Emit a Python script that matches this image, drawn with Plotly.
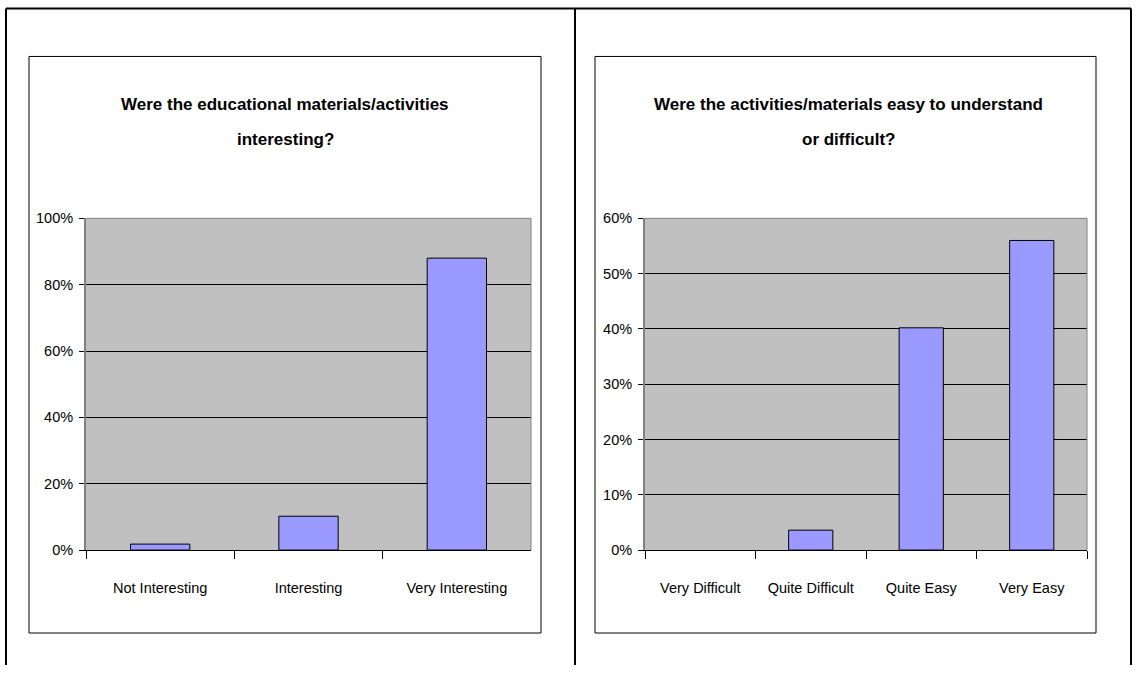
import plotly.graph_objects as go

W, H = 1137, 673

# ---- data ----
cats_left = ["Not Interesting", "Interesting", "Very Interesting"]
vals_left = [0.018, 0.102, 0.88]
title_left = ["Were the educational materials/activities", "interesting?"]

cats_right = ["Very Difficult", "Quite Difficult", "Quite Easy", "Very Easy"]
vals_right = [0.0, 0.036, 0.402, 0.56]
title_right = ["Were the activities/materials easy to understand", "or difficult?"]

yticks_left = [0, 0.2, 0.4, 0.6, 0.8, 1.0]
yticks_right = [0, 0.1, 0.2, 0.3, 0.4, 0.5, 0.6]

FONT = "Liberation Sans, Arial, sans-serif"
BAR = "#9999FF"
BG = "#C0C0C0"

# vertical calibration of the rendered page (observed offset/scale)
Y_OFF, Y_SCALE = 7.5, 0.977


def px(x):
    return x / W


def py(y):
    yp = (y - Y_OFF) / Y_SCALE
    return min(1.0, max(0.0, 1 - yp / H))


def outline(vals):
    return [0 if v == 0 else 1 for v in vals]


fig = go.Figure()
fig.add_trace(go.Bar(x=cats_left, y=vals_left,
                     marker=dict(color=BAR, line=dict(color="black", width=outline(vals_left))),
                     xaxis="x", yaxis="y", showlegend=False, hoverinfo="skip"))
fig.add_trace(go.Bar(x=cats_right, y=vals_right,
                     marker=dict(color=BAR, line=dict(color="black", width=outline(vals_right))),
                     xaxis="x2", yaxis="y2", showlegend=False, hoverinfo="skip"))

ydom = [py(550), py(218)]
common_x = dict(showgrid=False, showline=True, linecolor="black", linewidth=1, ticks="outside",
                tickson="boundaries", ticklen=8, tickcolor="black",
                tickfont=dict(family=FONT, size=14.5, color="black"),
                ticklabelstandoff=25, fixedrange=True, mirror=False)
common_y = dict(showgrid=True, gridcolor="black", gridwidth=1, showline=True, linecolor="#808080", linewidth=2,
                ticks="outside", ticklen=5, tickcolor="black", tickformat=".0%", zeroline=False,
                tickfont=dict(family=FONT, size=14.5, color="black"), ticklabelstandoff=3, fixedrange=True)

fig.update_layout(
    width=W, height=H, margin=dict(l=0, r=0, t=0, b=0), autosize=False,
    paper_bgcolor="white", plot_bgcolor=BG, bargap=0.6,
    xaxis=dict(domain=[px(86), px(531)], anchor="y", **common_x),
    yaxis=dict(domain=ydom, anchor="x", range=[0, 1.0], tickvals=yticks_left, **common_y),
    xaxis2=dict(domain=[px(645), px(1087)], anchor="y2", **common_x),
    yaxis2=dict(domain=ydom, anchor="x2", range=[0, 0.6], tickvals=yticks_right, **common_y),
)

shapes = []
# outer table lines
for x0, y0, x1, y1 in [(6, 8, 1131, 8), (6, 8, 6, 700), (575, 8, 575, 700), (1131, 8, 1131, 700)]:
    shapes.append(dict(type="line", xref="paper", yref="paper", x0=px(x0), y0=py(y0), x1=px(x1), y1=py(y1),
                       line=dict(color="black", width=2)))
# chart boxes
for x0, x1 in [(29, 541), (595, 1096)]:
    shapes.append(dict(type="rect", xref="paper", yref="paper", x0=px(x0), y0=py(56), x1=px(x1), y1=py(633),
                       line=dict(color="black", width=1), fillcolor="rgba(0,0,0,0)", layer="below"))
# plot-area gray frame (top and right)
for x0, x1 in [(86, 531), (645, 1087)]:
    shapes.append(dict(type="line", xref="paper", yref="paper", x0=px(x0), y0=py(218), x1=px(x1), y1=py(218),
                       line=dict(color="#808080", width=1)))
    shapes.append(dict(type="line", xref="paper", yref="paper", x0=px(x1), y0=py(218), x1=px(x1), y1=py(550),
                       line=dict(color="#808080", width=1)))
fig.update_layout(shapes=shapes)

anns = []
for cx, lines in [(285, title_left), (848, title_right)]:
    for i, t in enumerate(lines):
        anns.append(dict(text=f"<b>{t}</b>", xref="paper", yref="paper", x=px(cx), y=py(104 + 35 * i),
                         xanchor="center", yanchor="middle", showarrow=False,
                         font=dict(family=FONT, size=17, color="black")))
fig.update_layout(annotations=anns)

post = (
    "document.documentElement.style.margin='0';document.documentElement.style.overflow='hidden';"
    "document.body.style.margin='0';document.body.style.overflow='hidden';"
    "var gd=document.getElementsByClassName('plotly-graph-div')[0];"
    "gd.style.position='fixed';gd.style.top='0px';gd.style.left='0px';"
)
fig.write_html("out.html", config={"displayModeBar": False}, post_script=post)
